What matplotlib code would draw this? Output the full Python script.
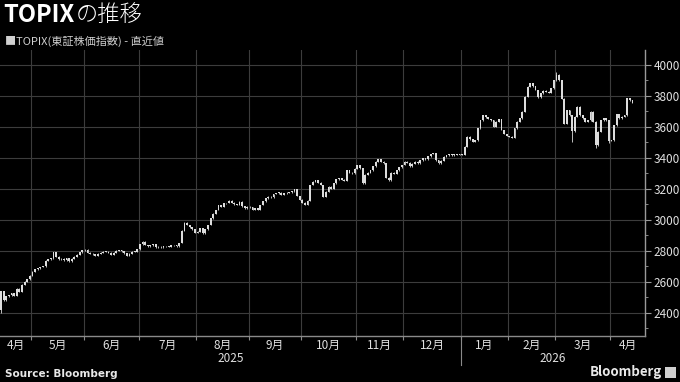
import matplotlib
matplotlib.use("Agg")
import matplotlib.pyplot as plt
import matplotlib.transforms as mtransforms
from matplotlib.patches import Rectangle
import numpy as np

plt.rcParams['font.family'] = ['Noto Sans CJK JP', 'DejaVu Sans']

# 日足終値 (2025年4月中旬 - 2026年4月上旬)、チャートから読み取り
closes = [
    2540, 2480, 2505, 2512, 2525, 2510, 2555, 2535, 2580, 2600,
    2615, 2640, 2665, 2680, 2688, 2695, 2700, 2735, 2745, 2750,
    2790, 2760, 2745, 2748, 2740, 2752, 2732, 2748, 2760, 2775,
    2790, 2803, 2808, 2788, 2780, 2776, 2768, 2780, 2788, 2795,
    2793, 2788, 2775, 2787, 2800, 2805, 2798, 2785, 2766, 2780,
    2793, 2795, 2810, 2843, 2858, 2837, 2830, 2836, 2843, 2823,
    2826, 2823, 2828, 2830, 2826, 2835, 2837, 2830, 2850, 2930,
    2980, 2966, 2950, 2940, 2916, 2923, 2946, 2914, 2940, 2966,
    3010, 3040, 3063, 3095, 3084, 3105, 3108, 3123, 3110, 3100,
    3095, 3116, 3088, 3075, 3084, 3080, 3063, 3075, 3063, 3095,
    3120, 3140, 3148, 3145, 3166, 3172, 3174, 3160, 3170, 3174,
    3178, 3185, 3197, 3153, 3130, 3110, 3095, 3123, 3224, 3245,
    3256, 3240, 3224, 3148, 3180, 3213, 3200, 3235, 3262, 3267,
    3258, 3252, 3320, 3303, 3300, 3330, 3353, 3333, 3235, 3290,
    3303, 3320, 3346, 3374, 3390, 3375, 3364, 3270, 3256, 3303,
    3295, 3320, 3340, 3353, 3374, 3368, 3346, 3360, 3374, 3364,
    3385, 3396, 3390, 3410, 3424, 3428, 3385, 3364, 3380, 3405,
    3417, 3422, 3417, 3420, 3422, 3418, 3420, 3471, 3536, 3519,
    3503, 3514, 3590, 3643, 3675, 3660, 3650, 3643, 3600, 3632,
    3648, 3579, 3553, 3540, 3536, 3530, 3590, 3632, 3654, 3697,
    3794, 3858, 3880, 3860, 3837, 3790, 3815, 3832, 3826, 3820,
    3848, 3901, 3935, 3900, 3780, 3620, 3708, 3675, 3570, 3665,
    3729, 3675, 3654, 3632, 3643, 3697, 3632, 3480, 3568, 3643,
    3654, 3643, 3510, 3514, 3610, 3680, 3654, 3665, 3675, 3783,
    3772, 3755,
]
first_open = 2420
# 目立つヒゲ
wick_lows = {0: 2400, 218: 3503, 227: 3460, 232: 3495}
wick_highs = {212: 3950}

month_labels = ['4月', '5月', '6月', '7月', '8月', '9月', '10月', '11月',
                '12月', '1月', '2月', '3月', '4月']
month_starts = [12, 32, 53, 75, 95, 115, 136, 154, 176, 194, 212, 233]
year_labels = ['2025', '2026']
year_start = 176
y_ticks = list(range(2400, 4001, 200))

W, H = 680, 382
x_min, x_max = -0.4, 245.8
y_min, y_max = 2250, 4095

opens = [first_open] + closes[:-1]
n = len(closes)
idx = np.arange(n)
o = np.array(opens, dtype=float)
c = np.array(closes, dtype=float)
hi = np.maximum(o, c) + 3
lo = np.minimum(o, c) - 3
for k, v in wick_lows.items():
    lo[k] = v
for k, v in wick_highs.items():
    hi[k] = v

fig = plt.figure(figsize=(W / 100, H / 100), dpi=100, facecolor='black')
ax = fig.add_axes([0, 1 - 336 / H, 645 / W, (336 - 50) / H])
ax.set_facecolor('black')

grid_col = '#3c3c3c'
for y in y_ticks:
    ax.axhline(y, color=grid_col, lw=0.8, zorder=1)
for m in month_starts:
    ax.axvline(m - 0.5, color=grid_col, lw=0.8, zorder=1)

candle_col = '#dcdcdc'
ax.vlines(idx, lo, hi, color=candle_col, lw=0.6, zorder=3)
body_h = np.maximum(np.abs(c - o), 4)
ax.bar(idx, body_h, bottom=np.minimum(o, c), width=0.7, color=candle_col,
       edgecolor='none', zorder=4)

ax.set_xlim(x_min, x_max)
ax.set_ylim(y_min, y_max)

for s in ['top', 'left']:
    ax.spines[s].set_visible(False)
ax.spines['right'].set_color('#9a9a9a')
ax.spines['bottom'].set_color('#8a8a8a')
ax.spines['right'].set_linewidth(1.0)
ax.spines['bottom'].set_linewidth(1.0)

ax.yaxis.tick_right()
ax.set_yticks(y_ticks)
ax.set_yticklabels([str(v) for v in y_ticks])
ax.set_yticks(range(2300, 4100, 100), minor=True)
ax.tick_params(axis='y', which='major', length=4, color='#9a9a9a',
               labelcolor='#e0e0e0', labelsize=8.5, pad=2)
ax.tick_params(axis='y', which='minor', length=2, color='#9a9a9a')

ax.set_xticks([m - 0.5 for m in month_starts])
ax.set_xticklabels([])
ax.tick_params(axis='x', length=3, color='#8a8a8a')

trans = mtransforms.blended_transform_factory(ax.transData, ax.transAxes)
bounds = [x_min] + [m - 0.5 for m in month_starts] + [x_max]
for i, lab in enumerate(month_labels):
    xc = (bounds[i] + bounds[i + 1]) / 2
    ax.text(xc, -9 / 286, lab, transform=trans, ha='center', va='center',
            color='#e0e0e0', fontsize=8.5)
ax.text((x_min + year_start - 0.5) / 2, -22 / 286, year_labels[0],
        transform=trans, ha='center', va='center', color='#e0e0e0', fontsize=8.5)
ax.text((year_start - 0.5 + x_max) / 2, -22 / 286, year_labels[1],
        transform=trans, ha='center', va='center', color='#e0e0e0', fontsize=8.5)
ax.plot([year_start - 0.5, year_start - 0.5], [0, -29 / 286], transform=trans,
        color='#8a8a8a', lw=0.8, clip_on=False)

# タイトル
t1 = fig.text(3 / W, 1 - 15 / H, 'TOPIX', color='white', fontsize=17,
              fontweight='bold', va='center', ha='left')
fig.canvas.draw()
bb = t1.get_window_extent()
fig.text(bb.x1 / W + 0.002, 1 - 15 / H, 'の推移', color='white', fontsize=16,
         fontweight='light', va='center', ha='left')
fig.text(5 / W, 1 - 41 / H, '■TOPIX(東証株価指数) - 直近値', color='#d0d0d0',
         fontsize=8, va='center', ha='left')

fig.text(5 / W, 1 - 374 / H, 'Source: Bloomberg', color='#e8e8e8', fontsize=7.5,
         fontweight='bold', va='center', ha='left', family=['DejaVu Sans'])
fig.text(662 / W, 1 - 372 / H, 'Bloomberg', color='#e8e8e8', fontsize=9.5,
         fontweight='bold', va='center', ha='right')
fig.patches.append(Rectangle((665 / W, 1 - 378 / H), 11 / W, 11 / H,
                             transform=fig.transFigure, facecolor='#cfcfcf',
                             edgecolor='none'))

fig.savefig('out.png', dpi=100, facecolor='black')
